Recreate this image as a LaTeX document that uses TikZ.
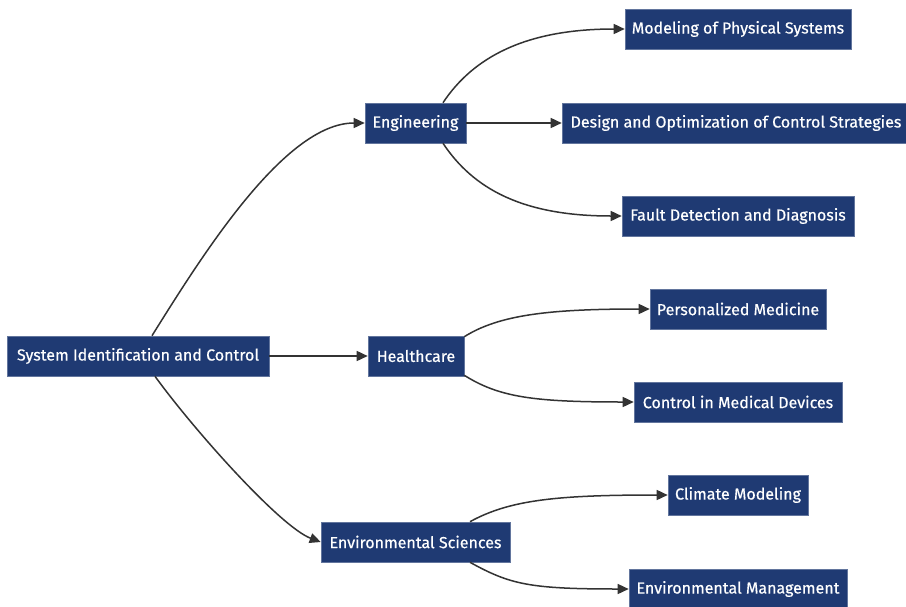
\documentclass[tikz,border=0pt]{standalone}
\usepackage{fontspec}
\setmainfont{Fira Sans}
\newfontfamily\boxfont{Fira Sans}[FakeBold=0.5]
\usetikzlibrary{arrows.meta}
\definecolor{navy}{HTML}{1F3A73}
\definecolor{edgec}{HTML}{333333}
\tikzset{
  box/.style={fill=navy, draw=navy!70!white, line width=0.6pt, text=white, font=\boxfont\fontsize{16}{18}\selectfont, minimum height=40pt, inner sep=0pt, anchor=center},
  link/.style={draw=edgec, line width=1.5pt, -{Triangle[length=11pt,width=10pt]}}
}
\begin{document}
\begin{tikzpicture}[x=1pt,y=-1pt]
\clip (0,0) rectangle (906,606);
\fill[white] (0,0) rectangle (906,606);
\node[box, minimum width=262pt] (root) at (138,356) {System Identification and Control};
\node[box, minimum width=101pt] (eng) at (415.5,123) {Engineering};
\node[box, minimum width=96pt] (hc) at (416,356) {Healthcare};
\node[box, minimum width=189pt] (env) at (415.5,542) {Environmental Sciences};
\node[box, minimum width=226pt] (mps) at (738,29) {Modeling of Physical Systems};
\node[box, minimum width=348pt] (doc) at (736,123) {Design and Optimization of Control Strategies};
\node[box, minimum width=232pt] (fdd) at (738,216) {Fault Detection and Diagnosis};
\node[box, minimum width=176pt] (pm) at (738,309) {Personalized Medicine};
\node[box, minimum width=208pt] (cmd) at (738,402) {Control in Medical Devices};
\node[box, minimum width=140pt] (cm) at (738,495) {Climate Modeling};
\node[box, minimum width=218pt] (em) at (738,589) {Environmental Management};

\draw[link] ([xshift=14pt]root.north) .. controls +(50,-80) and +(-80,0) .. (eng.west);
\draw[link] (root.east) -- (hc.west);
\draw[link] ([xshift=17pt]root.south) .. controls +(40,55) and +(-40,-15) .. (env.west);
\draw[link] ([xshift=27.5pt]eng.north) .. controls +(30,-45) and +(-100,0) .. (mps.west);
\draw[link] (eng.east) -- (doc.west);
\draw[link] ([xshift=27.5pt]eng.south) .. controls +(30,45) and +(-100,0) .. (fdd.west);
\draw[link] ([yshift=-1pt]hc.north east) .. controls +(35,-22) and +(-100,0) .. (pm.west);
\draw[link] ([yshift=1pt]hc.south east) .. controls +(35,22) and +(-100,0) .. (cmd.west);
\draw[link] ([xshift=54.5pt]env.north) .. controls +(40,-22) and +(-110,0) .. (cm.west);
\draw[link] ([xshift=54.5pt]env.south) .. controls +(40,22) and +(-100,0) .. (em.west);
\end{tikzpicture}
\end{document}
